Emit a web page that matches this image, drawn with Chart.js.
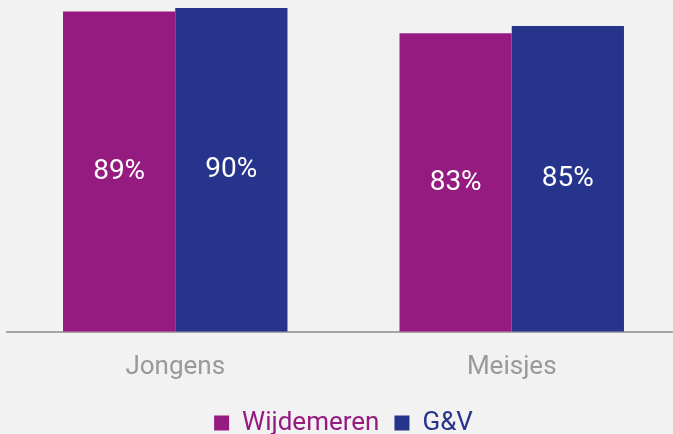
<!DOCTYPE html>
<html><head><meta charset="utf-8">
<script src="https://cdn.jsdelivr.net/npm/chart.js@4/dist/chart.umd.min.js"></script>
<style>
html,body{margin:0;padding:0;background:#f2f2f2;overflow:hidden;}
#wrap{position:absolute;left:0;top:0;width:688px;height:446px;}
</style></head>
<body><div id="wrap"><canvas id="c"></canvas></div>
<script>
const categories = ["Jongens", "Meisjes"];
const seriesNames = ["Wijdemeren", "G&V"];
const wijdemeren = [89, 83];
const genv = [90, 85];
const colors = ["#951b81", "#26348b"];

const valueLabels = {
  id: 'valueLabels',
  afterDatasetsDraw(chart) {
    const ctx = chart.ctx;
    ctx.save();
    ctx.fillStyle = '#ffffff';
    ctx.font = '400 28px Roboto';
    ctx.textAlign = 'center';
    ctx.textBaseline = 'middle';
    chart.data.datasets.forEach((ds, i) => {
      chart.getDatasetMeta(i).data.forEach((bar, j) => {
        const y = (bar.y + bar.base) / 2;
        ctx.fillText(ds.data[j] + '%', bar.x, y);
      });
    });
    ctx.restore();
  }
};

new Chart(document.getElementById('c'), {
  type: 'bar',
  data: {
    labels: categories,
    datasets: [
      { label: seriesNames[0], data: wijdemeren, backgroundColor: colors[0] },
      { label: seriesNames[1], data: genv, backgroundColor: colors[1] }
    ]
  },
  options: {
    responsive: true,
    maintainAspectRatio: false,
    animation: false,
    layout: { padding: { left: 7, right: 8, top: 0, bottom: 0 } },
    datasets: { bar: { categoryPercentage: 0.667, barPercentage: 1.0, borderWidth: 0 } },
    scales: {
      x: {
        grid: { display: false },
        border: { display: true, color: '#a6a6a6', width: 2 },
        ticks: { color: '#999999', font: { family: 'Roboto', size: 26 }, padding: 12 }
      },
      y: { display: false, min: 0, max: 92.23 }
    },
    plugins: {
      legend: {
        position: 'bottom',
        labels: {
          boxWidth: 15, boxHeight: 15, padding: 15,
          font: { family: 'Roboto', size: 26 },
          color: '#333',
          generateLabels(chart) {
            return chart.data.datasets.map((ds, i) => ({
              text: ds.label, fillStyle: ds.backgroundColor, strokeStyle: ds.backgroundColor,
              lineWidth: 0, fontColor: ds.backgroundColor, datasetIndex: i, hidden: false
            }));
          }
        }
      },
      tooltip: { enabled: false }
    }
  },
  plugins: [valueLabels]
});
</script></body></html>
